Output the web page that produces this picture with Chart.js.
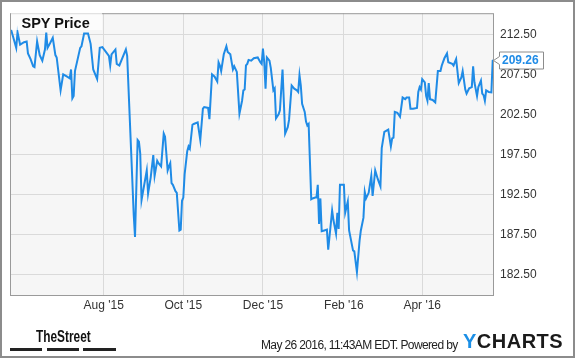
<!DOCTYPE html>
<html>
<head>
<meta charset="utf-8">
<script src="https://cdn.jsdelivr.net/npm/chart.js@4.4.1/dist/chart.umd.min.js"></script>
<style>
  html, body { margin: 0; padding: 0; background: #fff; }
  #wrap { position: relative; width: 575px; height: 358px; overflow: hidden; font-family: 'Liberation Sans', Arial, sans-serif; }
  #c { position: absolute; left: 0; top: 0; }
  #frame { position: absolute; left: 0; top: 0; width: 575px; height: 358px; box-sizing: border-box; border: 2px solid #8c8c8c; pointer-events: none; }
  #title { position: absolute; left: 11px; top: 10px; width: 91px; height: 20px; box-sizing: border-box; padding: 6px 0 0 10.5px; background: rgba(255,255,255,0.65); font-weight: bold; font-size: 14.5px; line-height: 14.5px; color: #111; white-space: nowrap; }
  #street { position: absolute; left: 36px; top: 328.7px; font-weight: bold; font-size: 16px; line-height: 16px; color: #111; transform: scaleX(0.741); transform-origin: 0 0; white-space: nowrap; }
  .bar { position: absolute; top: 348px; height: 3px; background: #222; }
  #stamp { position: absolute; left: 261px; top: 339.1px; font-size: 12px; line-height: 12px; letter-spacing: -0.63px; color: #222; white-space: nowrap; }
  #yc { position: absolute; left: 463px; top: 331.4px; font-weight: bold; font-size: 20px; line-height: 20px; letter-spacing: 0.5px; color: #1a1a1a; white-space: nowrap; }
  #yc span { color: #1b8fe6; }
</style>
</head>
<body>
<div id="wrap">
  <canvas id="c" width="575" height="358"></canvas>
  <div id="title">SPY Price</div>
  <div id="street">TheStreet</div>
  <div class="bar" style="left:10px;width:32px"></div>
  <div class="bar" style="left:47px;width:32px"></div>
  <div class="bar" style="left:83px;width:33px"></div>
  <div id="stamp">May 26 2016, 11:43AM EDT. Powered by</div>
  <div id="yc"><span>Y</span>CHARTS</div>
  <div id="frame"></div>
</div>
<script>
// Days counted from Aug 1 2015 (day 0)
const days = [
  -71,-67,-66,-64,-61,-59,-58,-56,-54,-53,-51,-49,-47,-45,-44,-43,-41,-39,-37,-36,
  -33,-31,-28,-26,-25,-24,-23,-22,-18,-17,-15,-12,-10,-8,-5,-3,-1,4,5,6,
  9,10,12,17,18,21,23,24,26,27,28,29,33,34,36,38,39,41,42,44,
  46,47,49,50,51,52,53,55,56,58,59,60,61,62,64,65,66,68,69,72,
  74,76,77,80,81,83,85,87,88,89,90,92,94,95,97,99,100,102,104,106,
  107,108,109,110,111,113,115,118,120,121,122,123,124,125,127,128,130,131,132,134,
  135,137,139,141,142,144,146,148,149,150,151,152,154,155,156,157,159,160,162,163,
  164,165,166,167,169,171,172,175,176,178,179,180,181,184,185,187,188,191,192,194,
  196,197,199,200,201,203,205,206,208,210,212,213,215,217,218,220,221,222,223,225,
  227,229,231,232,234,235,237,240,241,242,243,244,246,247,248,249,250,252,254,256,
  258,259,261,263,264,267,268,270,272,274,275,277,278,280,282,283,284,286,287,289,
  290,291,292,293,295,297,298,299
];
const prices = [
  213.1,210.8,212.75,211.2,211.5,211.6,210.1,209.4,208.5,208.4,211.6,209.9,209.2,210.6,212.7,210.8,211.4,212.05,209.9,209.6,
  205.5,207.5,207.2,207.0,208.1,204.5,204.8,207.9,210.8,211.0,212.6,212.6,211.3,208.1,206.9,210.8,210.9,209.8,208.6,210.0,
  210.6,208.8,208.6,210.6,209.8,198.0,190.0,187.2,199.3,199.1,197.6,191.8,195.5,192.6,194.6,197.4,194.8,196.7,196.4,196.0,
  200.1,199.7,195.5,196.0,196.4,193.9,193.7,192.9,192.7,188.0,188.1,191.7,192.1,195.0,197.9,198.5,198.2,201.2,201.3,201.5,
  199.3,203.2,203.4,203.3,201.9,207.5,207.2,206.6,209.0,208.6,207.9,210.0,211.0,210.3,210.0,208.1,208.5,207.8,202.6,204.2,
  205.5,205.6,208.6,208.8,209.3,209.2,209.5,209.6,209.0,208.8,210.7,209.0,205.7,209.6,209.2,208.3,205.5,205.75,202.0,202.5,
  203.0,208.1,200.1,200.9,201.8,206.1,205.7,205.5,205.3,207.4,206.1,203.8,202.8,201.6,201.1,201.3,191.9,192.0,192.1,192.1,
  193.7,188.8,192.0,187.9,188.0,188.1,185.6,190.5,189.3,187.6,190.2,188.2,193.7,193.7,190.2,191.6,188.0,185.5,185.4,182.8,
  186.7,188.0,189.6,192.8,192.0,192.7,194.8,192.3,195.5,194.4,193.5,198.3,200.3,200.5,200.6,198.5,199.5,199.6,202.8,202.7,
  202.2,204.6,204.4,204.6,204.6,203.2,203.2,203.3,205.3,205.9,205.6,206.9,206.5,204.8,204.2,206.4,204.4,204.3,204.0,207.9,
  207.9,208.6,209.5,210.1,209.0,208.8,208.6,209.4,206.4,207.1,207.9,205.6,205.1,205.75,205.9,208.5,206.5,204.8,205.9,206.7,
  205.1,204.9,204.2,205.5,205.3,205.25,209.2,209.26
];
const tickDays = [0, 61, 122, 184, 244];
const tickLabels = ["Aug '15", "Oct '15", "Dec '15", "Feb '16", "Apr '16"];
const yTicks = [182.5, 187.5, 192.5, 197.5, 202.5, 207.5, 212.5];
const xRange = [-71, 299];
const yRange = [179.94, 215.13];

const LINE = '#1f8be6';
const FONT = "'Liberation Sans', Arial, sans-serif";

const plotFrame = {
  id: 'plotFrame',
  beforeDraw(chart) {
    const { ctx, chartArea: a } = chart;
    ctx.save();
    ctx.fillStyle = '#f6f6f6';
    ctx.fillRect(a.left - 1, a.top, a.right - a.left + 1, a.bottom - a.top);
    ctx.restore();
  },
  afterDraw(chart) {
    const { ctx, chartArea: a, scales: { y } } = chart;
    ctx.save();
    ctx.strokeStyle = '#9a9a9a';
    ctx.lineWidth = 1;
    ctx.strokeRect(a.left - 0.5, a.top + 0.5, a.right - a.left, a.bottom - a.top);
    // last-value callout
    const val = prices[prices.length - 1];
    const py = Math.round(y.getPixelForValue(val)) + 0.5;
    const tipX = a.right - 0.5, bx = 499.5, bw = 44, bh = 17;
    ctx.beginPath();
    ctx.moveTo(tipX, py);
    ctx.lineTo(bx, py - 4);
    ctx.lineTo(bx, py - bh / 2);
    ctx.lineTo(bx + bw, py - bh / 2);
    ctx.lineTo(bx + bw, py + bh / 2);
    ctx.lineTo(bx, py + bh / 2);
    ctx.lineTo(bx, py + 4);
    ctx.closePath();
    ctx.fillStyle = '#ffffff';
    ctx.fill();
    ctx.strokeStyle = '#8c8c8c';
    ctx.stroke();
    ctx.fillStyle = LINE;
    ctx.font = 'bold 12px ' + FONT;
    ctx.textAlign = 'left';
    ctx.textBaseline = 'middle';
    ctx.fillText(val.toFixed(2), bx + 2.5, py + 0.5);
    ctx.restore();
  }
};

new Chart(document.getElementById('c'), {
  type: 'line',
  data: {
    datasets: [{
      data: days.map((d, i) => ({ x: d, y: prices[i] })),
      borderColor: LINE,
      borderWidth: 2,
      pointRadius: 0,
      tension: 0,
      fill: false
    }]
  },
  options: {
    responsive: false,
    animation: false,
    devicePixelRatio: 1,
    layout: { padding: { left: 11, top: 10, right: 0, bottom: 0 } },
    plugins: { legend: { display: false }, tooltip: { enabled: false }, title: { display: false } },
    scales: {
      x: {
        type: 'linear',
        min: xRange[0], max: xRange[1],
        afterBuildTicks: s => { s.ticks = tickDays.map(v => ({ value: v })); },
        afterFit: s => { s.height = 63; },
        grid: { color: '#dadada', lineWidth: 1, drawTicks: false },
        border: { display: false },
        ticks: {
          autoSkip: false, maxRotation: 0, padding: 3, color: '#333',
          font: { family: FONT, size: 12 },
          callback: (v, i) => tickLabels[i]
        }
      },
      y: {
        type: 'linear',
        position: 'right',
        min: yRange[0], max: yRange[1],
        afterBuildTicks: s => { s.ticks = yTicks.map(v => ({ value: v })); },
        afterFit: s => { s.width = 81; },
        grid: { color: '#dadada', lineWidth: 1, drawTicks: false },
        border: { display: false },
        ticks: {
          padding: 6, color: '#333',
          font: { family: FONT, size: 12 },
          callback: v => Number(v).toFixed(2)
        }
      }
    }
  },
  plugins: [plotFrame]
});
</script>
</body>
</html>
